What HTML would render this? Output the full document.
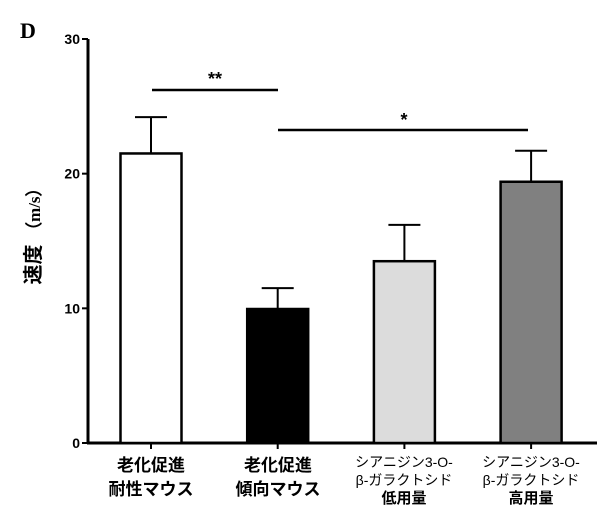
<!DOCTYPE html>
<html><head><meta charset="utf-8"><style>
body{margin:0;background:#fff;}
svg text{font-family:"Liberation Sans","Noto Sans CJK JP",sans-serif;}
</style></head><body>
<svg width="611" height="526" xmlns="http://www.w3.org/2000/svg">
<text x="20" y="38" font-family="Liberation Serif" font-weight="bold" font-size="22" style="font-family:'Liberation Serif',serif">D</text>
<g id="yaxis"></g>
<g id="bars"></g>
<g id="xlabels" font-size="17" font-weight="bold" text-anchor="middle">
<text x="151" y="471">老化促進</text>
<text x="151" y="495">耐性マウス</text>
<text x="278" y="471">老化促進</text>
<text x="278" y="495">傾向マウス</text>
<text x="404" y="467" font-size="14" font-weight="normal">シアニジン3-O-</text>
<text x="404" y="485" font-size="14" font-weight="normal">β-ガラクトシド</text>
<text x="404" y="503" font-size="15">低用量</text>
<text x="531" y="467" font-size="14" font-weight="normal">シアニジン3-O-</text>
<text x="531" y="485" font-size="14" font-weight="normal">β-ガラクトシド</text>
<text x="531" y="503" font-size="15">高用量</text>
</g>
<text transform="translate(40,232) rotate(-90)" text-anchor="middle" font-size="20" font-weight="bold">速度 <tspan font-size="17" font-family="Liberation Serif">（m/s）</tspan></text>
<g>
<line x1="152" y1="90" x2="278" y2="90" stroke="#000" stroke-width="2.5"/>
<text x="215" y="85" text-anchor="middle" font-size="18" font-weight="bold">**</text>
<line x1="278" y1="130" x2="528" y2="130" stroke="#000" stroke-width="2.5"/>
<text x="404" y="126" text-anchor="middle" font-size="18" font-weight="bold">*</text>
</g>
</svg>
<script>
const categories=["耐性","傾向","低用量","高用量"];
const values=[21.5,9.95,13.5,19.4];
const errors=[2.7,1.55,2.7,2.3];
const fills=["#fff","#000","#dcdcdc","#808080"];
const yTicks=[0,10,20,30];
const NS="http://www.w3.org/2000/svg";
const y0=443,yTop=39,yMax=30;
function ys(v){return y0-(v/yMax)*(y0-yTop);}
function xc(i){return 151+i*126.7;}
const ya=document.getElementById('yaxis'),bg=document.getElementById('bars');
function mk(t,a,p){const e=document.createElementNS(NS,t);for(const k in a)e.setAttribute(k,a[k]);p.appendChild(e);return e;}
let l=mk('line',{x1:88,y1:yTop,x2:88,y2:y0,stroke:'#000','stroke-width':3},ya);


l=mk('line',{x1:87,y1:y0,x2:597,y2:y0,stroke:'#000','stroke-width':3},ya);


yTicks.forEach(t=>{
 const tk=mk('line',{x1:82,y1:ys(t),x2:88,y2:ys(t),stroke:'#000','stroke-width':2},ya);
 
 
 const tx=mk('text',{x:80,y:ys(t)+5,'text-anchor':'end','font-size':14,'font-weight':'bold'},ya);
 tx.textContent=t;
 
 
});
values.forEach((v,i)=>{
 const c=xc(i),w=61;
 const tk=mk('line',{x1:c,y1:y0,x2:c,y2:y0+6,stroke:'#000','stroke-width':2},bg);
 
 
 const eTop=ys(v+errors[i]);
 const el=mk('line',{x1:c,y1:ys(v),x2:c,y2:eTop,stroke:'#000','stroke-width':2},bg);
 
 
 const cap=mk('line',{x1:c-16,y1:eTop,x2:c+16,y2:eTop,stroke:'#000','stroke-width':2},bg);
 
 
 const r=mk('rect',{x:c-w/2,y:ys(v),width:w,height:y0-ys(v),fill:fills[i],stroke:'#000','stroke-width':2.5},bg);
 
 
});
</script>
</body></html>
